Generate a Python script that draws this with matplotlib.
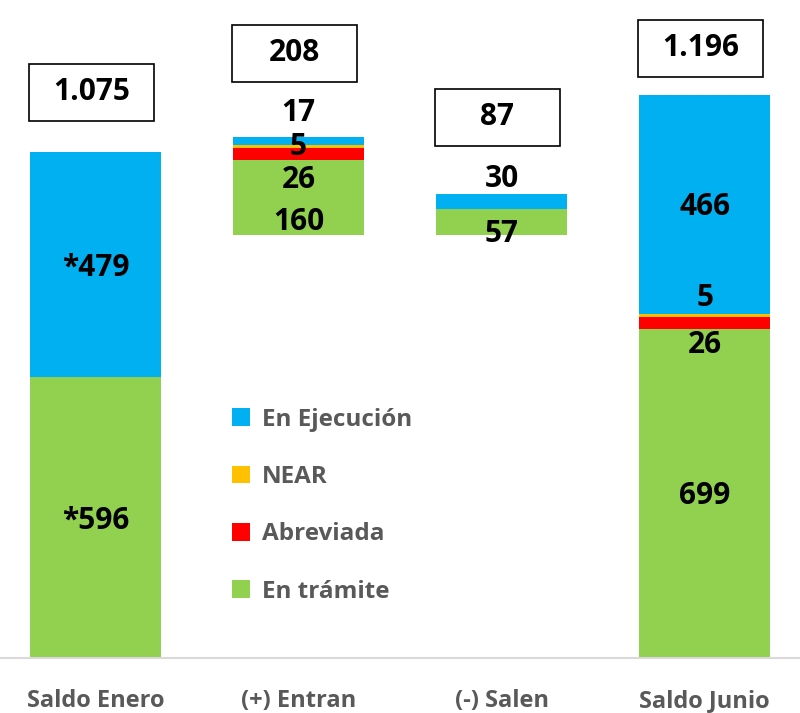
import matplotlib

matplotlib.use("Agg")
import matplotlib.pyplot as plt
import numpy as np
from matplotlib.patches import Rectangle

plt.rcParams["font.family"] = ["Open Sans", "DejaVu Sans"]
plt.rcParams["font.weight"] = "bold"

categories = ["Saldo Enero", "(+) Entran", "(-) Salen", "Saldo Junio"]
base = [0, 898, 898, 0]
en_tramite = [596, 160, 57, 699]
abreviada = [0, 26, 0, 26]
near = [0, 5, 0, 5]
en_ejecucion = [479, 17, 30, 466]
totals = ["1.075", "208", "87", "1.196"]

# segment labels: (text, y in data units) per bar
seg_labels = [
    [("*479", 829), ("*596", 291)],
    [("17", 1158), ("5", 1086), ("26", 1016), ("160", 926)],
    [("30", 1018), ("57", 901)],
    [("466", 958), ("5", 765), ("26", 665), ("699", 344)],
]
box_y = [1202, 1285, 1149, 1295]

colors = {
    "En Ejecución": "#00B0F0",
    "NEAR": "#FFC000",
    "Abreviada": "#FF0000",
    "En trámite": "#92D050",
}

fig = plt.figure(figsize=(8, 7.13), dpi=100)
ax = fig.add_axes([0, 1 - 658 / 713, 1, 658 / 713])

x = np.arange(len(categories))
w = 0.645
bottom = np.array(base, dtype=float)
handles = {}
for name, vals in [("En trámite", en_tramite), ("Abreviada", abreviada),
                   ("NEAR", near), ("En Ejecución", en_ejecucion)]:
    vals = np.array(vals, dtype=float)
    handles[name] = ax.bar(x, vals, w, bottom=bottom, color=colors[name],
                           label=name, linewidth=0)
    bottom += vals

for i, labs in enumerate(seg_labels):
    for txt, yy in labs:
        ax.text(x[i], yy, txt, ha="center", va="center", fontsize=21.5,
                fontweight="bold", color="black")

bw, bh = 0.616, 121
for i, t in enumerate(totals):
    ax.add_patch(Rectangle((x[i] - 0.02 - bw / 2, box_y[i] - bh / 2), bw, bh,
                           facecolor="white", edgecolor="black", linewidth=1.2,
                           clip_on=False))
    ax.text(x[i] - 0.02, box_y[i], t, ha="center", va="center", fontsize=21.5,
            fontweight="bold", color="black")

ax.set_xlim(-0.47, 3.47)
ax.set_ylim(0, 1398)
ax.set_yticks([])
ax.set_xticks(x)
ax.set_xticklabels(categories, fontsize=17, fontweight="bold", color="#595959")
ax.tick_params(axis="x", length=0, pad=22)
for s in ["top", "left", "right"]:
    ax.spines[s].set_visible(False)
ax.spines["bottom"].set_color("#d9d9d9")
ax.spines["bottom"].set_linewidth(1.5)

order = ["En Ejecución", "NEAR", "Abreviada", "En trámite"]
leg = ax.legend([handles[n] for n in order], order, loc="upper left",
                bbox_to_anchor=(222 / 800, 1 - 398 / 713), bbox_transform=fig.transFigure,
                frameon=False, fontsize=17.5, handlelength=0.75, handleheight=0.75,
                handletextpad=0.5, labelspacing=1.37, borderaxespad=0)
for t in leg.get_texts():
    t.set_color("#595959")
    t.set_fontweight("bold")

fig.savefig("out.png", dpi=100)
